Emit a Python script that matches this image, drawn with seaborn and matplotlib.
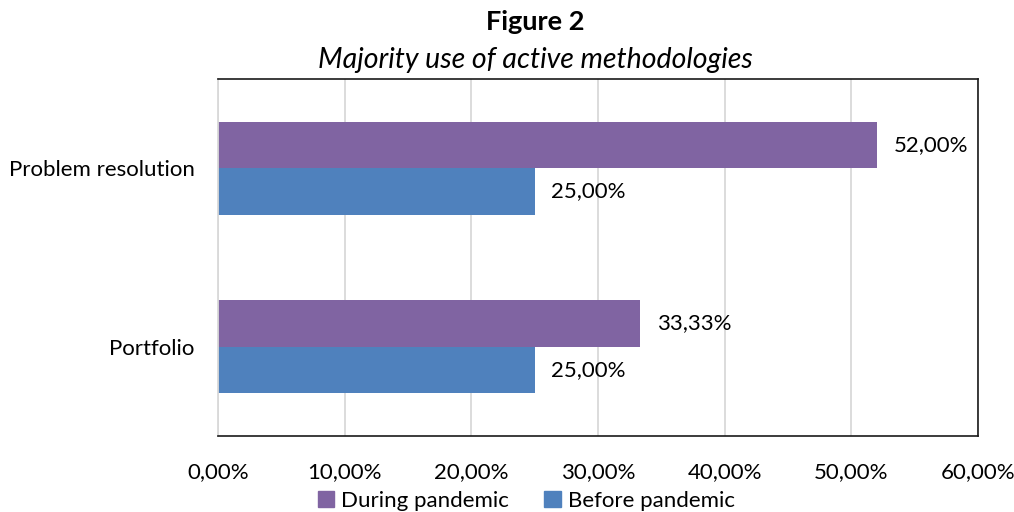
import matplotlib
matplotlib.use("Agg")
import matplotlib.pyplot as plt
import seaborn as sns
import pandas as pd
from matplotlib.ticker import FuncFormatter

# Share of teachers using each active methodology (%)
categories = ["Problem resolution", "Portfolio"]
series_names = ["During pandemic", "Before pandemic"]
during_pandemic = [52.00, 33.33]
before_pandemic = [25.00, 25.00]
x_ticks = [0, 10, 20, 30, 40, 50, 60]

colors = {"During pandemic": "#8064A2", "Before pandemic": "#4F81BD"}

df = pd.DataFrame({
    "Methodology": categories * 2,
    "Period": [series_names[0]] * len(categories) + [series_names[1]] * len(categories),
    "Value": during_pandemic + before_pandemic,
})

sns.set_theme(style="white")
plt.rcParams["font.family"] = ["Lato", "DejaVu Sans"]
plt.rcParams["text.color"] = "#000000"

fig = plt.figure(figsize=(10.14, 5.12), dpi=100)
ax = fig.add_axes([0.215, 0.1484, 0.7495, 0.6973])

sns.barplot(data=df, y="Methodology", x="Value", hue="Period",
            order=categories, hue_order=series_names, palette=colors,
            orient="h", width=0.52, linewidth=0, saturation=1,
            errorbar=None, ax=ax)

ax.set_xlim(0, 60)
ax.set_ylim(1.5, -0.5)
ax.set_xticks(x_ticks)
ax.xaxis.set_major_formatter(FuncFormatter(lambda v, _: f"{v:.2f}%".replace(".", ",")))
ax.set_xlabel("")
ax.set_ylabel("")
ax.tick_params(axis="x", length=0, pad=19, labelsize=16, colors="#000000")
ax.tick_params(axis="y", length=0, pad=17, labelsize=16, colors="#000000")

ax.grid(axis="x", color="#D9D9D9", linewidth=1.3)
ax.set_axisbelow(True)
for side in ["top", "right", "bottom"]:
    ax.spines[side].set_color("#1a1a1a")
    ax.spines[side].set_linewidth(1.2)
ax.spines["left"].set_color("#D9D9D9")
ax.spines["left"].set_linewidth(1.3)

for container in ax.containers:
    ax.bar_label(container, labels=[f"{v:.2f}%".replace(".", ",") for v in container.datavalues],
                 padding=12, fontsize=16, color="#000000")

ax.legend_.remove()
handles = [plt.Rectangle((0, 0), 1, 1, color=colors[s]) for s in series_names]
fig.legend(handles, series_names, loc="center", bbox_to_anchor=(0.519, 0.022),
           ncol=2, frameon=False, fontsize=16, handlelength=0.75, handleheight=0.75,
           handletextpad=0.3, columnspacing=1.6, labelcolor="#000000")

fig.text(0.528, 0.958, "Figure 2", ha="center", va="center",
         fontsize=19.5, fontweight="bold", color="#000000")
fig.text(0.528, 0.882, "Majority use of active methodologies", ha="center", va="center",
         fontsize=20.5, fontstyle="italic", color="#000000")

fig.savefig("out.png", dpi=100)
